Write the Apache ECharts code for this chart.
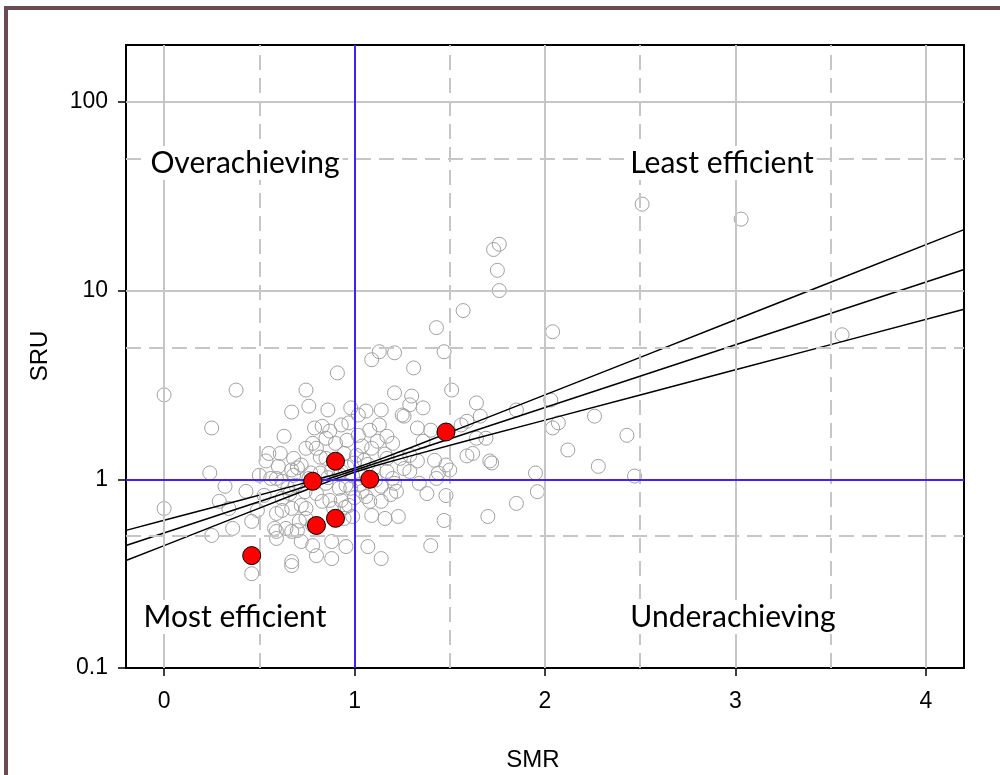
<!DOCTYPE html>
<html>
<head>
<meta charset="utf-8">
<script src="https://cdn.jsdelivr.net/npm/echarts@6/dist/echarts.min.js"></script>
<style>html,body{margin:0;padding:0;background:#fff;}#c{width:1000px;height:775px;}</style>
</head>
<body>
<div id="c"></div>
<script>
// ---- data ----
const xTicks = [0, 1, 2, 3, 4];
const yTicks = [0.1, 1, 10, 100];
const xGridSolid = [0, 2, 3, 4];
const xGridDashed = [0.5, 1.5, 2.5, 3.5];
const yGridSolid = [10, 100];
const yGridDashed = [0.5, 5, 50];
const refSMR = 1;
const refSRU = 1;

const quadrantLabels = ["Overachieving", "Least efficient", "Most efficient", "Underachieving"];
const xTitle = "SMR";
const yTitle = "SRU";

// grey hospitals
const smrGrey = [2.51,3.03,1.73,1.76,1.75,1.76,1.57,2.04,1.43,3.56,1.47,1.13,1.21,1.09,1.31,0.91,0.745,0.378,0.0,1.51,1.21,1.30,1.64,1.85,2.03,2.26,1.66,1.59,2.07,2.04,2.43,1.64,1.69,1.59,1.62,1.71,1.72,2.12,2.28,1.48,1.50,1.95,2.47,1.48,1.96,1.85,1.70,1.47,1.40,1.07,1.14,1.56,1.36,1.25,1.42,1.44,1.33,1.29,1.43,1.04,1.17,1.20,1.22,1.14,1.04,1.08,1.09,1.16,1.23,0.98,1.02,0.86,0.76,0.67,0.79,0.83,0.93,0.97,0.63,0.78,0.85,0.90,0.96,1.02,0.55,0.61,0.68,0.745,0.80,0.85,0.945,1.01,1.14,1.29,1.26,1.06,1.13,1.08,1.17,1.33,1.40,1.20,1.12,1.04,1.36,1.24,1.29,1.09,1.17,0.87,0.25,0.24,0.32,0.43,0.29,0.0,0.34,0.49,0.62,0.25,0.36,0.46,0.59,0.67,0.46,0.67,0.50,0.59,0.68,0.535,0.60,0.67,0.72,0.82,0.88,0.93,0.99,0.56,0.62,0.69,0.85,0.92,0.98,0.525,0.62,0.72,0.83,0.87,0.93,0.97,0.59,0.67,0.745,0.945,0.99,0.58,0.64,0.70,0.59,0.72,0.88,0.955,0.67,0.80,0.88,0.955,0.78,0.78,0.745,1.05,1.10,1.14,1.00,1.21,1.26,1.34,1.38,0.76,0.80,0.66,0.86,0.92,0.96,1.03,1.06,0.74,0.70,0.82,0.89,1.11,1.16,1.19,0.65,0.71,0.77,0.95,1.00,1.07];
const sruGrey = [28.7,23.9,16.5,17.6,12.8,10.0,7.83,6.05,6.36,5.83,4.74,4.74,4.68,4.30,3.89,3.66,2.97,2.97,2.80,2.97,2.87,2.76,2.54,2.33,2.63,2.16,2.16,2.03,1.99,1.87,1.71,1.65,1.65,1.33,1.37,1.25,1.22,1.43,1.17,1.19,1.12,1.08,1.04,0.82,0.86,0.745,0.635,0.605,0.445,0.44,0.38,1.94,2.39,2.19,1.26,1.08,1.25,1.10,1.01,1.05,1.10,1.01,0.863,0.764,0.863,0.764,0.643,0.62,0.635,2.39,2.19,2.33,2.44,2.27,1.87,1.91,1.94,1.99,1.69,1.55,1.65,1.55,1.61,1.71,1.37,1.37,1.29,1.46,1.46,1.29,1.37,1.34,2.33,2.48,2.16,2.30,1.94,1.82,1.69,1.87,1.82,1.55,1.59,1.50,1.59,1.29,1.34,1.46,1.29,1.80,1.87,1.08,0.918,0.863,0.764,0.70,0.70,0.684,0.684,0.504,0.549,0.598,0.529,0.529,0.316,0.349,1.05,1.01,1.05,1.25,1.17,1.12,1.19,1.08,1.12,1.10,1.04,1.01,0.976,0.929,0.952,0.896,0.896,0.822,0.792,0.727,0.764,0.773,0.773,0.727,0.659,0.701,0.62,0.62,0.635,0.549,0.549,0.535,0.486,0.468,0.468,0.44,0.366,0.394,0.38,0.929,0.445,0.569,0.70,1.26,1.14,0.918,1.22,0.952,1.14,0.952,0.84,1.01,0.84,0.84,1.02,1.06,1.16,0.94,0.81,0.86,1.15,1.31,0.70,0.99,1.36,0.83,0.90,0.60,1.08,0.71,0.80,1.20];

// highlighted hospitals
const smrRed = [0.46, 0.80, 0.90, 0.78, 0.90, 1.08, 1.48];
const sruRed = [0.394, 0.569, 0.621, 0.976, 1.246, 1.0, 1.78];

// fitted line and confidence band
const fitX = [-0.2, 4.2];
const fitY = [0.446, 12.93];
const bandX = [-0.2, 0, 0.4, 0.7, 0.9, 1.0, 1.1, 1.3, 1.6, 2.0, 2.5, 3.0, 3.5, 4.2];
const bandUpper = [0.536, 0.606, 0.775, 0.934, 1.064, 1.144, 1.240, 1.479, 1.942, 2.799, 4.426, 7.00, 11.07, 21.03];
const bandLower = [0.371, 0.445, 0.642, 0.843, 1.005, 1.089, 1.171, 1.334, 1.608, 2.058, 2.798, 3.804, 5.17, 7.95];

// ---- chart ----
const chart = echarts.init(document.getElementById('c'), null, {renderer: 'canvas'});
const gridGrey = '#c6c6c6';
const blue = '#3f22ff';
const axisFont = 'Liberation Sans';
const tickSize = 23;
const titleSize = 24;

const gridLines = [];
xGridSolid.forEach(v => gridLines.push({xAxis: v, lineStyle: {color: gridGrey, width: 2, type: 'solid'}}));
xGridDashed.forEach(v => gridLines.push({xAxis: v, lineStyle: {color: gridGrey, width: 2, type: [15, 8]}}));
yGridSolid.forEach(v => gridLines.push({yAxis: v, lineStyle: {color: gridGrey, width: 2, type: 'solid'}}));
yGridDashed.forEach(v => gridLines.push({yAxis: v, lineStyle: {color: gridGrey, width: 2, type: [15, 8]}}));

function quadText(i, x, y) {
  return {type: 'text', x: x, y: y, z: 50, silent: true,
    style: {text: quadrantLabels[i], fontFamily: 'Lato', fontSize: 30, fill: '#000',
      align: 'center', verticalAlign: 'middle',
      textAlign: 'center', textVerticalAlign: 'middle',
      backgroundColor: '#fff', padding: [2, 3]}};
}

const option = {
  animation: false,
  backgroundColor: '#fff',
  grid: {left: 126, right: 36, top: 45, bottom: 107, show: true, borderColor: '#000', borderWidth: 2, backgroundColor: 'transparent'},
  xAxis: {
    type: 'value', min: -0.2, max: 4.2,
    axisLine: {show: true, onZero: false, lineStyle: {color: '#000', width: 2}},
    axisTick: {show: true, inside: false, length: 8, customValues: xTicks, lineStyle: {color: '#000', width: 1.5}},
    axisLabel: {customValues: xTicks, margin: 22, fontFamily: axisFont, fontSize: tickSize, color: '#000', formatter: v => String(v)},
    splitLine: {show: false}
  },
  yAxis: {
    type: 'log', logBase: 10, min: 0.1, max: 200,
    axisLine: {show: true, onZero: false, lineStyle: {color: '#000', width: 2}},
    axisTick: {show: true, inside: false, length: 8, customValues: yTicks, lineStyle: {color: '#000', width: 1.5}},
    axisLabel: {customValues: yTicks, margin: 18, fontFamily: axisFont, fontSize: tickSize, color: '#000',
      formatter: v => (v < 0.5 ? '0.1' : String(Math.round(v)))},
    splitLine: {show: false}
  },
  graphic: [
    {type: 'rect', z: 100, silent: true, shape: {x: 6, y: 8, width: 1200, height: 1000},
      style: {fill: 'none', stroke: '#6b4b52', lineWidth: 4}},
    quadText(0, 245, 163),
    quadText(1, 722, 163),
    quadText(2, 235, 617),
    quadText(3, 733, 617),
    {type: 'text', x: 533, y: 760, silent: true,
      style: {text: xTitle, fontFamily: axisFont, fontSize: titleSize, fill: '#000', align: 'center', verticalAlign: 'middle', textAlign: 'center', textVerticalAlign: 'middle'}},
    {type: 'text', x: 40, y: 356, rotation: Math.PI / 2, silent: true,
      style: {text: yTitle, fontFamily: axisFont, fontSize: titleSize, fill: '#000', align: 'center', verticalAlign: 'middle', textAlign: 'center', textVerticalAlign: 'middle'}}
  ],
  series: [
    {type: 'scatter', data: [], z: 1, silent: true,
      markLine: {silent: true, symbol: 'none', label: {show: false}, animation: false, emphasis: {disabled: true}, data: gridLines}},
    {type: 'scatter', z: 2, silent: true, symbol: 'circle', symbolSize: 14,
      itemStyle: {color: 'rgba(0,0,0,0)', borderColor: '#a0a0a0', borderWidth: 1, opacity: 1},
      data: smrGrey.map((x, i) => [x, sruGrey[i]])},
    {type: 'scatter', data: [], z: 3, silent: true,
      markLine: {silent: true, symbol: 'none', label: {show: false}, animation: false, emphasis: {disabled: true},
        lineStyle: {color: blue, width: 2, type: 'solid'},
        data: [{xAxis: refSMR}, {yAxis: refSRU}]}},
    {type: 'line', z: 4, silent: true, showSymbol: false, symbol: 'none', lineStyle: {color: '#000', width: 1.5},
      data: bandX.map((x, i) => [x, bandUpper[i]])},
    {type: 'line', z: 4, silent: true, showSymbol: false, symbol: 'none', lineStyle: {color: '#000', width: 1.5},
      data: fitX.map((x, i) => [x, fitY[i]])},
    {type: 'line', z: 4, silent: true, showSymbol: false, symbol: 'none', lineStyle: {color: '#000', width: 1.5},
      data: bandX.map((x, i) => [x, bandLower[i]])},
    {type: 'scatter', z: 5, silent: true, symbol: 'circle', symbolSize: 18,
      itemStyle: {color: '#ff0000', borderColor: '#000', borderWidth: 1, opacity: 1},
      data: smrRed.map((x, i) => [x, sruRed[i]])}
  ]
};
chart.setOption(option);
</script>
</body>
</html>
